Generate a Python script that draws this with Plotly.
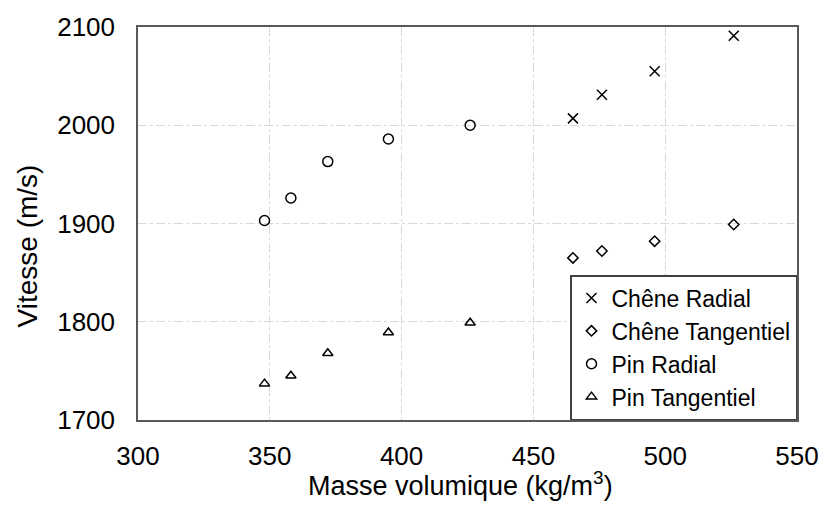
import plotly.graph_objects as go

pin_x = [348, 358, 372, 395, 426]
pin_radial = [1903, 1926, 1963, 1986, 2000]
pin_tangentiel = [1737, 1745, 1768, 1789, 1799]
chene_x = [465, 476, 496, 526]
chene_radial = [2007, 2031, 2055, 2091]
chene_tangentiel = [1865, 1872, 1882, 1899]

x_title = "Masse volumique (kg/m<sup>3</sup>)"
y_title = "Vitesse (m/s)"

series = [
    ("Chêne Radial", chene_x, chene_radial, "x-thin-open", 10),
    ("Chêne Tangentiel", chene_x, chene_tangentiel, "diamond-open", 8),
    ("Pin Radial", pin_x, pin_radial, "circle-open", 10),
    ("Pin Tangentiel", pin_x, pin_tangentiel, "triangle-up-open", 9),
]

fig = go.Figure()
for name, xs, ys, sym, sz in series:
    fig.add_trace(go.Scatter(
        x=xs, y=ys, mode="markers", name=name,
        marker=dict(symbol=sym, size=sz, color="black",
                    line=dict(color="black", width=1.5)),
    ))

font_family = "Liberation Sans, Arial, sans-serif"
axis_common = dict(
    showline=True, linecolor="#595959", linewidth=1.5, mirror=True,
    showgrid=True, gridcolor="#d9d9d9", griddash="dashdot", gridwidth=1,
    zeroline=False, ticks="",
    tickfont=dict(size=26, color="black", family=font_family),
)

fig.update_layout(
    width=834, height=505,
    margin=dict(l=138, r=37, t=24, b=85),
    paper_bgcolor="white", plot_bgcolor="white",
    font=dict(family=font_family, color="black"),
    xaxis=dict(range=[300, 550], dtick=50, ticklabelstandoff=12, **axis_common),
    yaxis=dict(range=[1700, 2100], dtick=100, ticklabelstandoff=16, **axis_common),
    legend=dict(x=1, y=0, xanchor="right", yanchor="bottom",
                bordercolor="#404040", borderwidth=1.5, bgcolor="white",
                font=dict(size=23, color="black", family=font_family),
                itemwidth=30),
    showlegend=True,
    annotations=[
        dict(text=x_title, xref="paper", yref="paper", x=0.49, y=-0.163,
             xanchor="center", yanchor="middle", showarrow=False,
             font=dict(size=27, color="black", family=font_family)),
        dict(text=y_title, xref="paper", yref="paper", x=-0.167, y=0.444,
             xanchor="center", yanchor="middle", showarrow=False, textangle=-90,
             font=dict(size=28, color="black", family=font_family)),
    ],
)

fig.write_html("out.html", config={"displayModeBar": False},
               post_script="document.body.style.margin='0';")
